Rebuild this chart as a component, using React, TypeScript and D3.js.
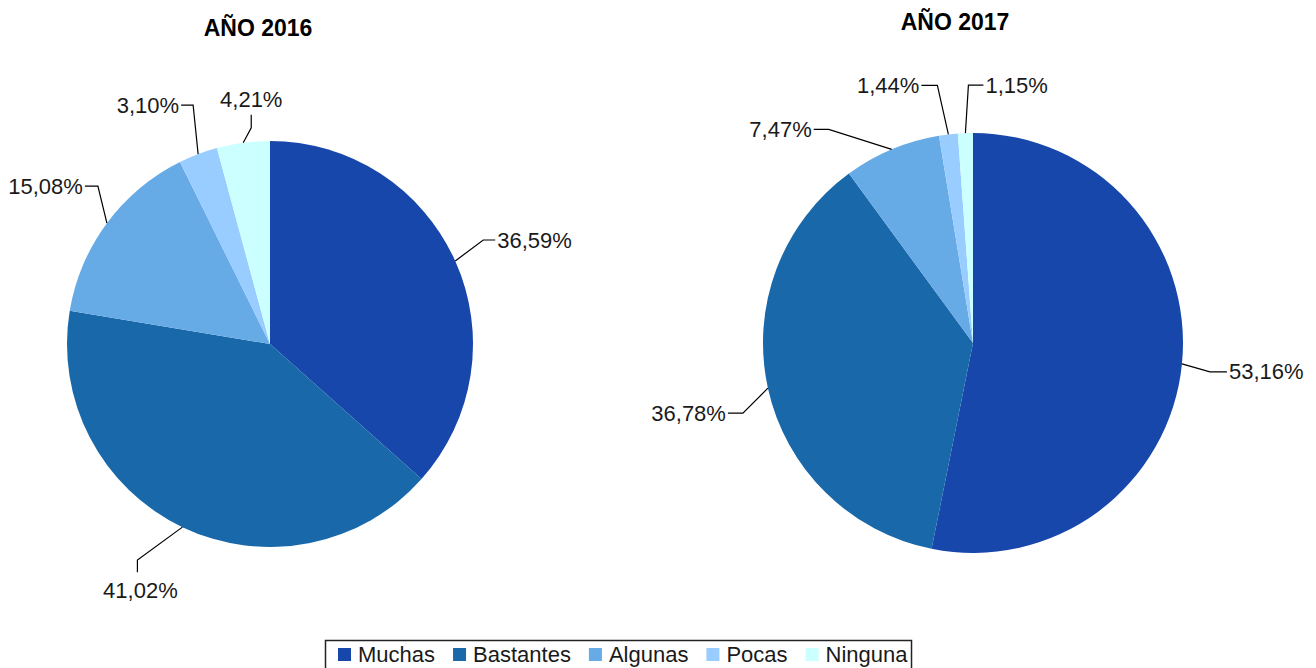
import React, { useEffect, useRef } from "react";
import * as d3 from "d3";

const categories = ["Muchas", "Bastantes", "Algunas", "Pocas", "Ninguna"];
const values2016 = [36.59, 41.02, 15.08, 3.1, 4.21];
const values2017 = [53.16, 36.78, 7.47, 1.44, 1.15];
const titles = ["AÑO 2016", "AÑO 2017"];
const colors = ["#1747AA", "#1868AA", "#66AAE6", "#99CCFF", "#CCFFFF"];

// layout (annotation placement), not data
type Tail = "left" | "right" | "up" | "down";
const labelLayout2016: { elbow: [number, number]; tail: Tail; len: number }[] = [
  { elbow: [28, -21], tail: "right", len: 12 },
  { elbow: [-45, 33], tail: "down", len: 12 },
  { elbow: [-9, -37], tail: "left", len: 13 },
  { elbow: [-5, -49], tail: "left", len: 12 },
  { elbow: [8, -15], tail: "up", len: 13 },
];
const labelLayout2017: { elbow: [number, number]; tail: Tail; len: number }[] = [
  { elbow: [28, 8], tail: "right", len: 17 },
  { elbow: [-25, 25], tail: "left", len: 15 },
  { elbow: [-63, -20], tail: "left", len: 15 },
  { elbow: [-11, -49], tail: "left", len: 16 },
  { elbow: [3, -48], tail: "right", len: 15 },
];

const charts = [
  { values: values2016, title: titles[0], cx: 270, cy: 344, r: 203, tx: 258, ty: 36, layout: labelLayout2016 },
  { values: values2017, title: titles[1], cx: 973, cy: 343, r: 210, tx: 955, ty: 30, layout: labelLayout2017 },
];

const FONT = "'Liberation Sans', Arial, Helvetica, sans-serif";
const fmt = (v: number) => v.toFixed(2).replace(".", ",") + "%";

export default function App() {
  const ref = useRef<SVGSVGElement>(null);

  useEffect(() => {
    const svg = d3.select(ref.current);
    svg.selectAll("*").remove();

    const pie = d3
      .pie<number>()
      .sort(null)
      .value((d) => d)
      .startAngle(0)
      .endAngle(2 * Math.PI);

    charts.forEach((c) => {
      const g = svg.append("g").attr("transform", `translate(${c.cx},${c.cy})`);
      const arc = d3.arc<d3.PieArcDatum<number>>().innerRadius(0).outerRadius(c.r);
      const arcs = pie(c.values);

      g.selectAll("path.slice")
        .data(arcs)
        .enter()
        .append("path")
        .attr("class", "slice")
        .attr("d", arc)
        .attr("fill", (_, i) => colors[i]);

      arcs.forEach((a, i) => {
        const mid = (a.startAngle + a.endAngle) / 2;
        const px = c.r * Math.sin(mid);
        const py = -c.r * Math.cos(mid);
        const L = c.layout[i];
        const ex = px + L.elbow[0];
        const ey = py + L.elbow[1];
        let endX = ex;
        let endY = ey;
        if (L.tail === "left") endX = ex - L.len;
        if (L.tail === "right") endX = ex + L.len;
        if (L.tail === "up") endY = ey - L.len;
        if (L.tail === "down") endY = ey + L.len;
        g.append("polyline")
          .attr("points", `${px},${py} ${ex},${ey} ${endX},${endY}`)
          .attr("fill", "none")
          .attr("stroke", "#000")
          .attr("stroke-width", 1.2);
        const t = g
          .append("text")
          .text(fmt(c.values[i]))
          .attr("font-family", FONT)
          .attr("font-size", 22)
          .attr("fill", "#1a1a1a");
        if (L.tail === "left") {
          t.attr("x", endX - 2).attr("y", endY).attr("text-anchor", "end").attr("dominant-baseline", "central");
        } else if (L.tail === "right") {
          t.attr("x", endX + 2).attr("y", endY).attr("text-anchor", "start").attr("dominant-baseline", "central");
        } else if (L.tail === "up") {
          t.attr("x", endX).attr("y", endY - 8).attr("text-anchor", "middle");
        } else {
          t.attr("x", endX + 3).attr("y", endY + 26).attr("text-anchor", "middle");
        }
      });

      svg
        .append("text")
        .text(c.title)
        .attr("x", c.tx)
        .attr("y", c.ty)
        .attr("text-anchor", "middle")
        .attr("font-family", FONT)
        .attr("font-weight", "bold")
        .attr("font-size", 23)
        .attr("fill", "#000");
    });

    // legend
    const lg = svg.append("g");
    const box = lg
      .append("rect")
      .attr("x", 325.5)
      .attr("y", 640.5)
      .attr("height", 34)
      .attr("fill", "#fff")
      .attr("stroke", "#222")
      .attr("stroke-width", 1.5);
    let x = 338;
    categories.forEach((cat, i) => {
      lg.append("rect")
        .attr("x", x)
        .attr("y", 648)
        .attr("width", 13)
        .attr("height", 13)
        .attr("fill", colors[i]);
      const t = lg
        .append("text")
        .text(cat)
        .attr("x", x + 20)
        .attr("y", 662)
        .attr("font-family", FONT)
        .attr("font-size", 22)
        .attr("fill", "#1a1a1a");
      const w = (t.node() as SVGTextElement).getComputedTextLength();
      x = x + 20 + w + 18;
    });
    box.attr("width", x - 18 + 4 - 325.5);
  }, []);

  return (
    <svg
      ref={ref}
      width={1316}
      height={668}
      style={{ position: "absolute", left: 0, top: 0, background: "#fff" }}
    />
  );
}
